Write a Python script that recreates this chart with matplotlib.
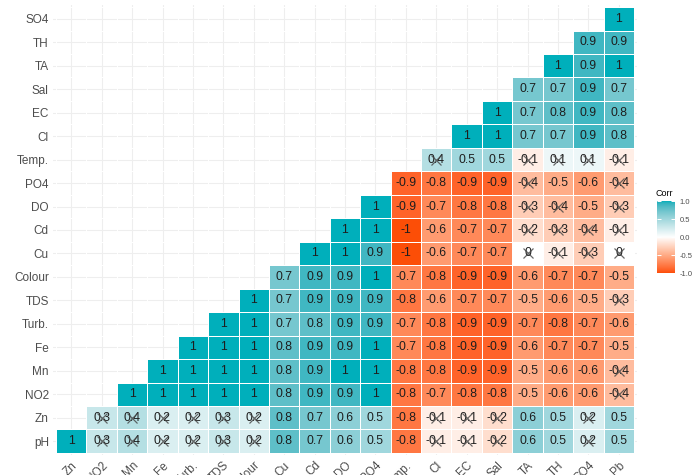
import numpy as np
import matplotlib
matplotlib.use("Agg")
import matplotlib.pyplot as plt
from matplotlib.colors import ListedColormap

plt.rcParams['font.family'] = ['Liberation Sans', 'DejaVu Sans']
plt.rcParams['axes.unicode_minus'] = False

# variable order of the correlation matrix
variables = ["pH", "Zn", "NO2", "Mn", "Fe", "Turb.", "TDS", "Colour", "Cu", "Cd",
             "DO", "PO4", "Temp.", "Cl", "EC", "Sal", "TA", "TH", "SO4", "Pb"]

# upper triangle, one list per variable (its correlations with every later variable)
r_pH = [1, 0.3, 0.4, 0.2, 0.2, 0.3, 0.2, 0.8, 0.7, 0.6, 0.5, -0.8, -0.1, -0.1, -0.2, 0.6, 0.5, 0.2, 0.5]
r_Zn = [0.3, 0.4, 0.2, 0.2, 0.3, 0.2, 0.8, 0.7, 0.6, 0.5, -0.8, -0.1, -0.1, -0.2, 0.6, 0.5, 0.2, 0.5]
r_NO2 = [1, 1, 1, 1, 1, 0.8, 0.9, 0.9, 1, -0.8, -0.7, -0.8, -0.8, -0.5, -0.6, -0.6, -0.4]
r_Mn = [1, 1, 1, 1, 0.8, 0.9, 1, 1, -0.8, -0.8, -0.9, -0.9, -0.5, -0.6, -0.6, -0.4]
r_Fe = [1, 1, 1, 0.8, 0.9, 0.9, 1, -0.7, -0.8, -0.9, -0.9, -0.6, -0.7, -0.7, -0.5]
r_Turb = [1, 1, 0.7, 0.8, 0.9, 0.9, -0.7, -0.8, -0.9, -0.9, -0.7, -0.8, -0.7, -0.6]
r_TDS = [1, 0.7, 0.9, 0.9, 0.9, -0.8, -0.6, -0.7, -0.7, -0.5, -0.6, -0.5, -0.3]
r_Colour = [0.7, 0.9, 0.9, 1, -0.7, -0.8, -0.9, -0.9, -0.6, -0.7, -0.7, -0.5]
r_Cu = [1, 1, 0.9, -1, -0.6, -0.7, -0.7, 0, -0.1, -0.3, 0]
r_Cd = [1, 1, -1, -0.6, -0.7, -0.7, -0.2, -0.3, -0.4, -0.1]
r_DO = [1, -0.9, -0.7, -0.8, -0.8, -0.3, -0.4, -0.5, -0.3]
r_PO4 = [-0.9, -0.8, -0.9, -0.9, -0.4, -0.5, -0.6, -0.4]
r_Temp = [0.4, 0.5, 0.5, -0.1, 0.1, 0.1, -0.1]
r_Cl = [1, 1, 0.7, 0.7, 0.9, 0.8]
r_EC = [1, 0.7, 0.8, 0.9, 0.8]
r_Sal = [0.7, 0.7, 0.9, 0.7]
r_TA = [1, 0.9, 1]
r_TH = [0.9, 0.9]
r_SO4 = [1]

rows = [r_pH, r_Zn, r_NO2, r_Mn, r_Fe, r_Turb, r_TDS, r_Colour, r_Cu, r_Cd,
        r_DO, r_PO4, r_Temp, r_Cl, r_EC, r_Sal, r_TA, r_TH, r_SO4]

# pairs whose correlation is not significant (crossed out)
not_significant = [
    ("pH", "NO2"), ("pH", "Mn"), ("pH", "Fe"), ("pH", "Turb."), ("pH", "TDS"), ("pH", "Colour"),
    ("pH", "Cl"), ("pH", "EC"), ("pH", "Sal"), ("pH", "SO4"),
    ("Zn", "NO2"), ("Zn", "Mn"), ("Zn", "Fe"), ("Zn", "Turb."), ("Zn", "TDS"), ("Zn", "Colour"),
    ("Zn", "Cl"), ("Zn", "EC"), ("Zn", "Sal"), ("Zn", "SO4"),
    ("NO2", "Pb"), ("Mn", "Pb"), ("TDS", "Pb"),
    ("Cu", "TA"), ("Cu", "TH"), ("Cu", "SO4"), ("Cu", "Pb"),
    ("Cd", "TA"), ("Cd", "TH"), ("Cd", "SO4"), ("Cd", "Pb"),
    ("DO", "TA"), ("DO", "TH"), ("DO", "Pb"),
    ("PO4", "TA"), ("PO4", "Pb"),
    ("Temp.", "Cl"), ("Temp.", "TA"), ("Temp.", "TH"), ("Temp.", "SO4"), ("Temp.", "Pb"),
]

low_col, mid_col, high_col = "#FC4E07", "#FFFFFF", "#00AFBB"


# diverging palette interpolated in CIE Lab, like scale_fill_gradient2
WHITE = np.array([0.95047, 1.0, 1.08883])
M = np.array([[0.4124, 0.3576, 0.1805],
              [0.2126, 0.7152, 0.0722],
              [0.0193, 0.1192, 0.9505]])
D = 6 / 29


def hex_to_lab(h):
    c = np.array([int(h[i:i + 2], 16) for i in (1, 3, 5)]) / 255
    lin = np.where(c <= 0.04045, c / 12.92, ((c + 0.055) / 1.055) ** 2.4)
    t = (M @ lin) / WHITE
    f = np.where(t > D ** 3, np.cbrt(t), t / (3 * D ** 2) + 4 / 29)
    return np.array([116 * f[1] - 16, 500 * (f[0] - f[1]), 200 * (f[1] - f[2])])


def lab_to_rgb(lab):
    fy = (lab[0] + 16) / 116
    f = np.array([fy + lab[1] / 500, fy, fy - lab[2] / 200])
    t = np.where(f > D, f ** 3, 3 * D ** 2 * (f - 4 / 29)) * WHITE
    lin = np.linalg.solve(M, t)
    c = np.where(lin <= 0.0031308, 12.92 * lin, 1.055 * np.abs(lin) ** (1 / 2.4) - 0.055)
    return np.clip(c, 0, 1)


lab_lo, lab_mid, lab_hi = hex_to_lab(low_col), hex_to_lab(mid_col), hex_to_lab(high_col)
colors = []
for v in np.linspace(-1, 1, 301):
    if v < 0:
        lab = lab_mid + (lab_lo - lab_mid) * (-v)
    else:
        lab = lab_mid + (lab_hi - lab_mid) * v
    colors.append(lab_to_rgb(lab))
cmap = ListedColormap(colors)

n = len(variables) - 1
mat = np.full((n, n), np.nan)
for i, row in enumerate(rows):
    for k, v in enumerate(row):
        mat[i, i + k] = v

fig = plt.figure(figsize=(6.96, 4.75), dpi=100)
ax = fig.add_axes([53 / 696, 19.7 / 475, 584 / 696, 450.6 / 475])

edges = np.arange(n + 1) - 0.5
ax.pcolormesh(edges, edges, np.ma.masked_invalid(mat), cmap=cmap, vmin=-1, vmax=1,
              edgecolors="white", linewidth=0.6, zorder=2)

for i in range(n):
    for j in range(n):
        if not np.isnan(mat[i, j]):
            ax.text(j, i, f"{mat[i, j]:g}", ha="center", va="center",
                    fontsize=8.8, color="#1e1e1e", zorder=3)

for a, b in not_significant:
    i, j = variables.index(a), variables.index(b) - 1
    ax.plot(j, i, marker="x", ms=7, mew=0.9, color="#444444", alpha=0.8, zorder=4)

ax.set_xlim(-0.6, n - 0.4)
ax.set_ylim(-0.6, n - 0.4)
ax.set_xticks(range(n))
ax.set_xticklabels(variables[1:], rotation=45, ha="right", va="top",
                   rotation_mode="anchor", fontsize=8.5, color="#4D4D4D")
ax.set_yticks(range(n))
ax.set_yticklabels(variables[:-1], fontsize=8.5, color="#4D4D4D")
ax.tick_params(length=0, pad=3)
ax.grid(True, color="#EEEEEE", linewidth=0.8, zorder=0)
ax.set_axisbelow(True)
for s in ax.spines.values():
    s.set_visible(False)

# colour bar legend
cax = fig.add_axes([657 / 696, (475 - 273) / 475, 18 / 696, 72 / 475])
cax.imshow(np.linspace(-1, 1, 300)[:, None], aspect="auto", cmap=cmap,
           origin="lower", extent=[0, 1, -1, 1])
bar_ticks = [-1, -0.5, 0, 0.5, 1]
cax.hlines(bar_ticks, 0, 0.2, color="white", lw=0.7)
cax.hlines(bar_ticks, 0.8, 1, color="white", lw=0.7)
cax.set_xlim(0, 1)
cax.set_ylim(-1, 1)
cax.set_xticks([])
cax.yaxis.tick_right()
cax.set_yticks(bar_ticks)
cax.set_yticklabels([f"{t:.1f}" for t in bar_ticks], fontsize=5.5, color="#4D4D4D")
cax.tick_params(length=0, pad=3.5)
for s in cax.spines.values():
    s.set_visible(False)
fig.text(656 / 696, 1 - 193 / 475, "Corr", fontsize=6.5, va="center", ha="left")

fig.savefig("out.png", dpi=100)
